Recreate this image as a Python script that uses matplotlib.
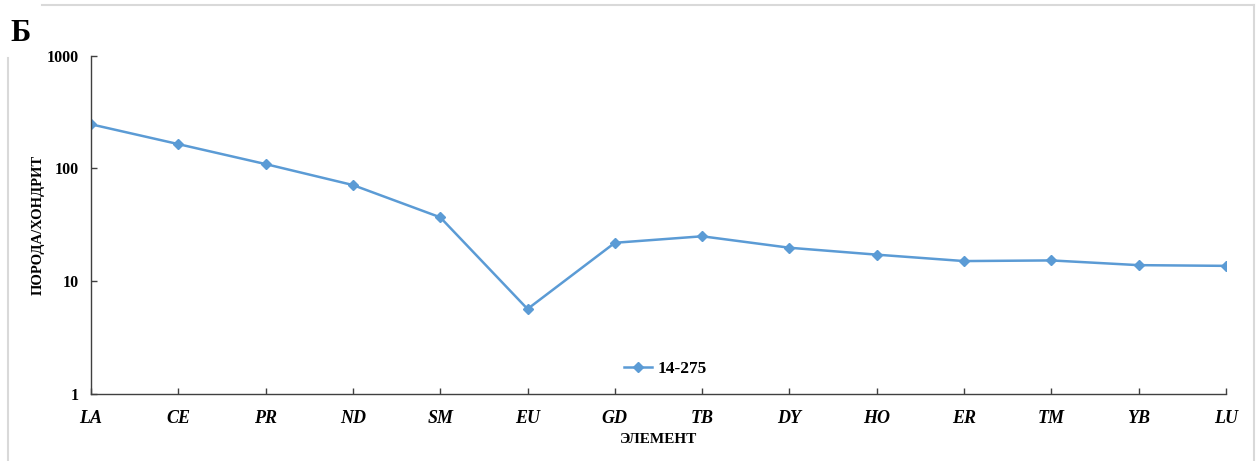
import matplotlib
matplotlib.use("Agg")
import matplotlib.pyplot as plt
from matplotlib.lines import Line2D
from matplotlib.ticker import FixedLocator, FixedFormatter, NullLocator

plt.rcParams['font.family'] = ['Liberation Serif', 'DejaVu Serif']

elements = ["LA", "CE", "PR", "ND", "SM", "EU", "GD", "TB", "DY", "HO", "ER", "TM", "YB", "LU"]
sample_14_275 = [246, 164, 109, 71, 36.7, 5.63, 21.8, 24.9, 19.7, 17.1, 15.0, 15.2, 13.8, 13.6]
y_ticks = [1, 10, 100, 1000]
y_tick_labels = ["1", "10", "100", "1000"]

W, H = 1259, 461
fig = plt.figure(figsize=(W / 100, H / 100), dpi=100)
fig.patch.set_facecolor("white")

# light outer frame (left edge starts below the panel letter)
frame_kw = dict(color="#d9d9d9", linewidth=1.5, transform=None)
fig.add_artist(Line2D([42, 1254], [H - 4.5, H - 4.5], **frame_kw))
fig.add_artist(Line2D([1254, 1254], [H - 4.5, 0], **frame_kw))
fig.add_artist(Line2D([8, 8], [H - 58, 0], **frame_kw))

ax = fig.add_axes([91 / W, (H - 393.5) / H, 1135 / W, 337.8 / H])
x = list(range(len(elements)))
ax.plot(x, sample_14_275, color="#5B9BD5", linewidth=1.8,
        marker="D", markersize=5, label="14-275")

ax.set_yscale("log")
ax.set_ylim(1, 1000)
ax.set_xlim(0, len(elements) - 1)
ax.yaxis.set_major_locator(FixedLocator(y_ticks))
ax.yaxis.set_major_formatter(FixedFormatter(y_tick_labels))
ax.yaxis.set_minor_locator(NullLocator())
ax.set_xticks(x)
ax.set_xticklabels(elements, fontstyle="italic", fontweight="bold", fontsize=13)

for side in ("top", "right"):
    ax.spines[side].set_visible(False)
for side in ("left", "bottom"):
    ax.spines[side].set_color("#404040")
    ax.spines[side].set_linewidth(1.0)

ax.tick_params(axis="y", direction="in", length=4, width=1, color="#404040",
               pad=8.5, labelsize=11.5)
ax.tick_params(axis="x", direction="in", length=4, width=1, color="#404040",
               pad=12)
for lbl in ax.get_yticklabels():
    lbl.set_fontweight("bold")

ax.set_ylabel("ПОРОДА/ХОНДРИТ", fontsize=10.5, fontweight="bold", labelpad=1.5)
ax.set_xlabel("ЭЛЕМЕНТ", fontsize=11, fontweight="bold", labelpad=4)

leg = ax.legend(loc="center", bbox_to_anchor=(0.506, 0.0725), frameon=False,
                handlelength=1.6, handletextpad=0.3,
                prop={"family": "Liberation Serif", "weight": "bold", "size": 12.5})

fig.text(10 / W, 1 - 41 / H, "Б", fontsize=22, fontweight="bold", ha="left", va="baseline")

fig.savefig("out.png", dpi=100, facecolor="white")
